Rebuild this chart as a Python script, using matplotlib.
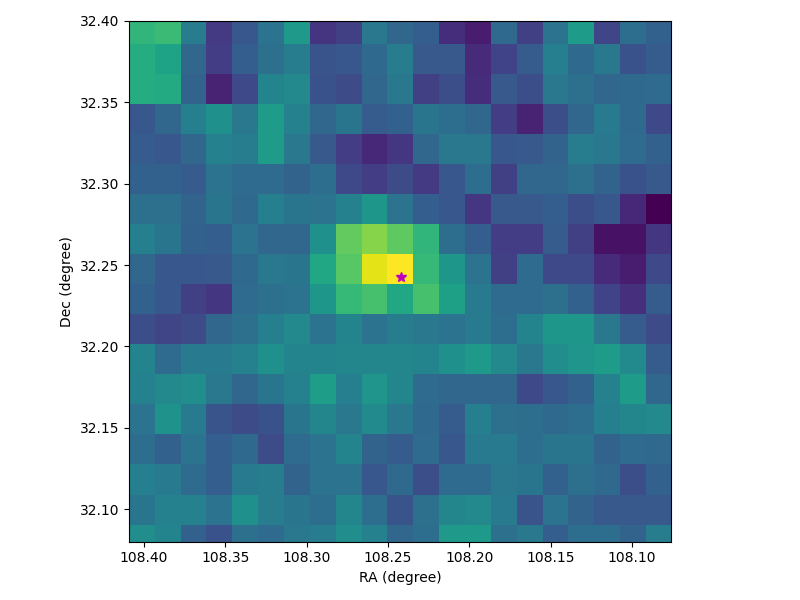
import numpy as np
import matplotlib
matplotlib.use("Agg")
import matplotlib.pyplot as plt

# Normalised intensity, top row first (21 columns x 18 rows)
row00 = [.66,.68,.42,.17,.27,.38,.54,.15,.19,.40,.33,.30,.13,.08,.34,.19,.38,.55,.21,.36,.31]
row01 = [.62,.58,.33,.18,.30,.37,.42,.26,.27,.34,.42,.28,.28,.12,.20,.29,.43,.34,.40,.25,.29]
row02 = [.62,.61,.32,.10,.22,.45,.47,.25,.23,.33,.40,.19,.24,.13,.28,.24,.40,.37,.33,.34,.35]
row03 = [.27,.33,.43,.50,.40,.55,.44,.33,.39,.29,.31,.39,.36,.33,.18,.10,.24,.33,.41,.34,.22]
row04 = [.29,.27,.33,.44,.42,.55,.40,.28,.18,.11,.16,.33,.40,.40,.27,.28,.32,.42,.40,.35,.31]
row05 = [.31,.31,.29,.38,.35,.35,.32,.36,.22,.18,.23,.17,.27,.36,.19,.33,.33,.37,.32,.25,.28]
row06 = [.37,.37,.32,.39,.34,.43,.39,.38,.44,.53,.38,.30,.27,.16,.28,.28,.30,.24,.27,.11,.00]
row07 = [.43,.39,.31,.30,.38,.33,.33,.50,.76,.82,.75,.66,.36,.30,.18,.18,.29,.19,.05,.05,.16]
row08 = [.33,.27,.27,.28,.34,.40,.39,.60,.74,.96,1.0,.67,.53,.38,.19,.35,.22,.22,.12,.08,.22]
row09 = [.31,.27,.19,.16,.35,.37,.38,.53,.67,.71,.60,.71,.57,.41,.35,.35,.37,.31,.20,.14,.29]
row10 = [.24,.21,.23,.33,.37,.43,.47,.38,.45,.38,.42,.40,.38,.41,.36,.45,.53,.53,.40,.29,.23]
row11 = [.45,.35,.41,.41,.44,.50,.45,.45,.46,.46,.46,.45,.50,.54,.47,.40,.49,.52,.55,.48,.29]
row12 = [.44,.47,.49,.40,.33,.39,.44,.56,.43,.52,.46,.35,.33,.33,.33,.22,.27,.31,.44,.55,.33]
row13 = [.38,.51,.41,.26,.23,.25,.39,.46,.40,.48,.40,.34,.29,.43,.37,.36,.34,.36,.43,.46,.47]
row14 = [.36,.31,.38,.30,.34,.23,.35,.38,.45,.32,.29,.35,.27,.41,.41,.36,.39,.39,.32,.35,.34]
row15 = [.43,.41,.35,.30,.41,.42,.32,.38,.38,.27,.34,.24,.35,.35,.40,.39,.31,.37,.34,.24,.31]
row16 = [.39,.44,.44,.38,.50,.42,.39,.36,.46,.36,.26,.37,.46,.47,.41,.26,.38,.32,.28,.28,.28]
row17 = [.49,.45,.31,.25,.37,.35,.40,.42,.49,.44,.33,.36,.54,.54,.37,.40,.30,.36,.36,.32,.42]

rows = [row00,row01,row02,row03,row04,row05,row06,row07,row08,row09,
        row10,row11,row12,row13,row14,row15,row16,row17]

star_ra = [108.2418]
star_dec = [32.2426]

fig = plt.figure(figsize=(8, 6), dpi=100)
ax = fig.add_axes([128.7/800, 1-541.6/600, 542.6/800, 520.6/600])
ax.imshow(np.array(rows), cmap="viridis", vmin=0, vmax=1, interpolation="nearest",
          extent=[108.4094, 108.0758, 32.0722, 32.4045], aspect="auto")
ax.plot(star_ra, star_dec, "m*", markersize=7)
ax.set_xlim(108.4094, 108.0758)
ax.set_ylim(32.08, 32.40)
ax.set_xticks([108.40,108.35,108.30,108.25,108.20,108.15,108.10])
ax.set_yticks([32.10,32.15,32.20,32.25,32.30,32.35,32.40])
ax.set_xticklabels([f"{v:.2f}" for v in ax.get_xticks()])
ax.set_yticklabels([f"{v:.2f}" for v in ax.get_yticks()])
ax.set_xlabel("RA (degree)")
ax.set_ylabel("Dec (degree)")
fig.savefig("out.png", dpi=100)
